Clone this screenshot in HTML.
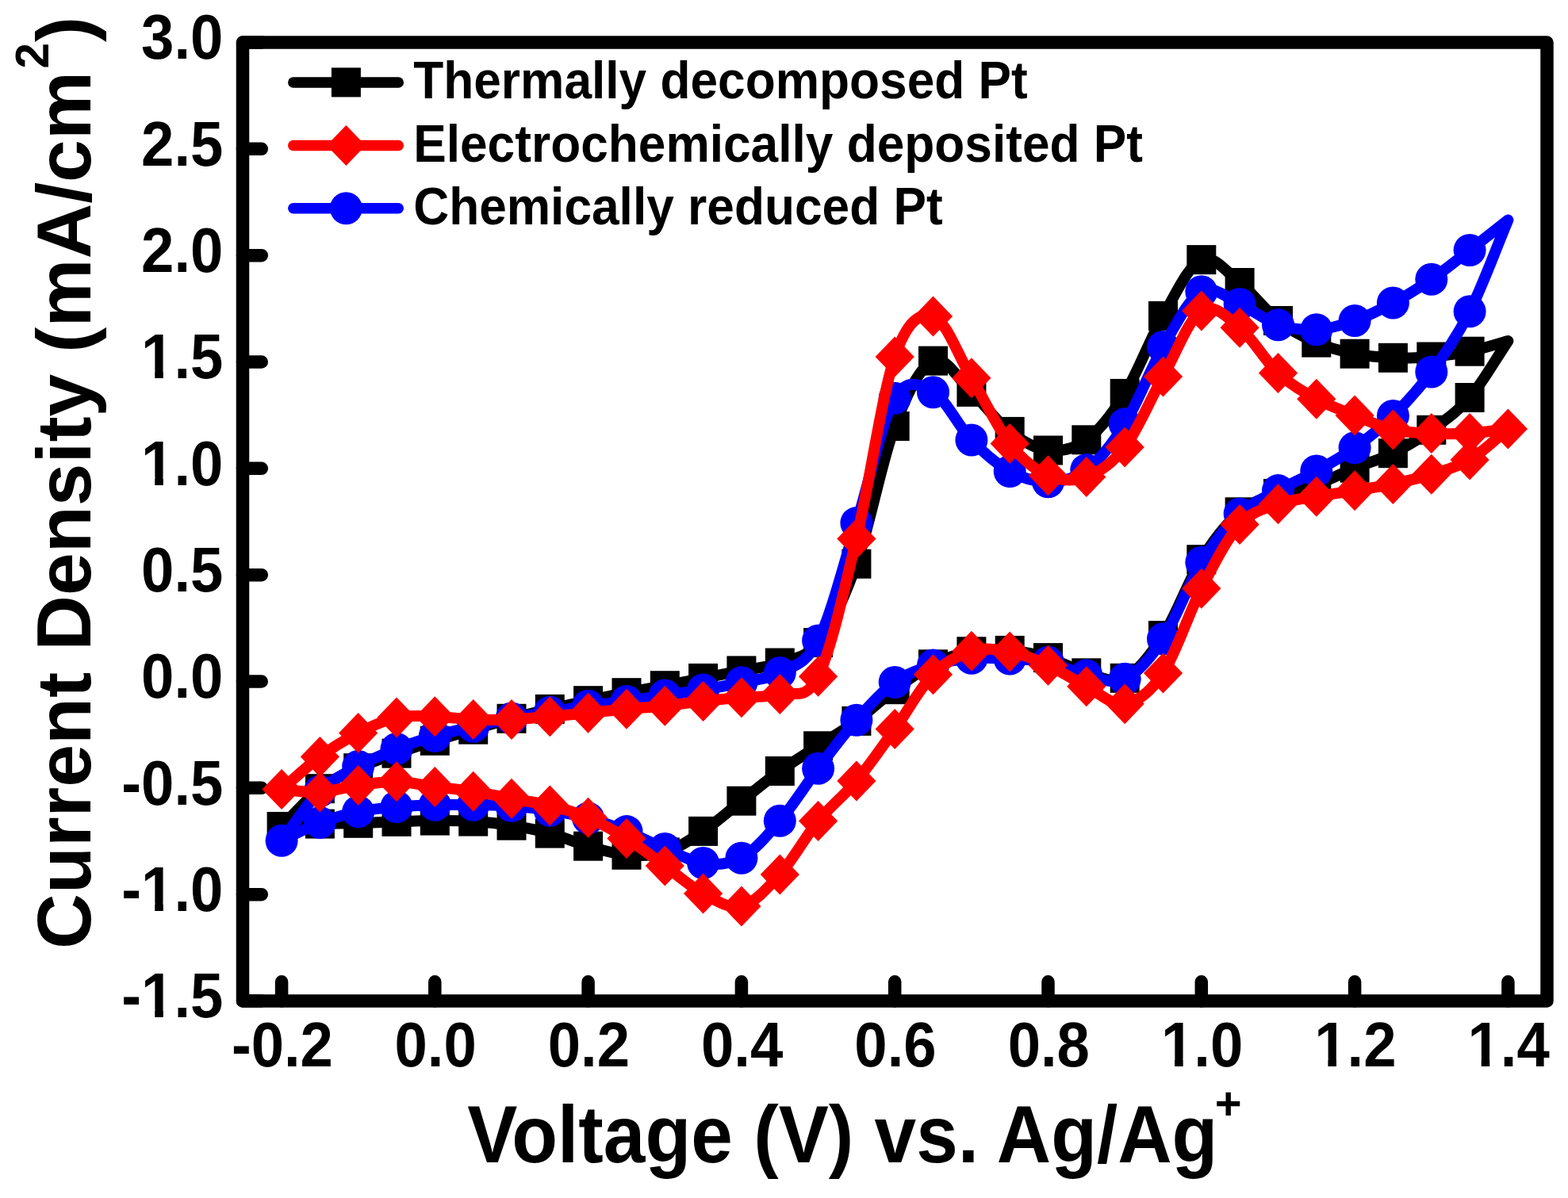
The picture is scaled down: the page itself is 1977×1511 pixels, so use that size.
<!DOCTYPE html>
<html><head><meta charset="utf-8"><title>Cyclic voltammetry of Pt counter electrodes</title>
<style>
html,body{margin:0;padding:0;background:#fff;}
body{width:1977px;height:1511px;overflow:hidden;}
svg{display:block;}
</style></head>
<body>
<svg width="1977" height="1511" viewBox="0 0 1977 1511"><rect width="1977" height="1511" fill="#fff"/><path d="M306.0,53.5H329.8M306.0,187.8H329.8M306.0,322.2H329.8M306.0,456.5H329.8M306.0,590.8H329.8M306.0,725.2H329.8M306.0,859.5H329.8M306.0,993.8H329.8M306.0,1128.2H329.8M306.0,1262.5H329.8M355.1,1262.5V1238.3M548.3,1262.5V1238.3M741.6,1262.5V1238.3M934.9,1262.5V1238.3M1128.2,1262.5V1238.3M1321.5,1262.5V1238.3M1514.8,1262.5V1238.3M1708.1,1262.5V1238.3M1901.4,1262.5V1238.3" stroke="#000" stroke-width="16.5" stroke-linecap="round" fill="none"/>
<path fill="none" stroke="#000" stroke-width="14.0" stroke-linejoin="round" stroke-linecap="round" d="M355.1,1042.5C371.2,1026.6 387.3,1007.0 403.4,994.7C419.5,982.4 435.6,976.1 451.7,968.7C467.8,961.3 483.9,955.9 500.0,950.2C516.1,944.5 532.2,939.3 548.3,934.3C564.5,929.3 580.6,924.9 596.7,920.2C612.8,915.5 628.9,910.6 645.0,906.3C661.1,902.0 677.2,898.2 693.3,894.4C709.4,890.6 725.5,887.2 741.6,883.7C757.7,880.2 773.9,876.9 790.0,873.7C806.1,870.5 822.2,867.8 838.3,864.7C854.4,861.7 870.5,858.5 886.6,855.4C902.7,852.3 918.8,849.1 934.9,845.9C951.0,842.7 967.1,841.9 983.3,836.0C999.4,830.1 1015.5,831.3 1031.6,810.5C1047.7,789.7 1063.8,756.7 1079.9,711.2C1096.0,665.7 1112.1,580.2 1128.2,537.5C1144.3,494.8 1160.4,462.3 1176.5,455.1C1192.7,447.9 1208.8,479.5 1224.9,494.4C1241.0,509.3 1257.1,532.1 1273.2,544.4C1289.3,556.7 1305.4,566.3 1321.5,568.0C1337.6,569.7 1353.7,566.7 1369.8,554.8C1386.0,542.9 1402.1,522.5 1418.2,496.4C1434.3,470.3 1450.4,426.5 1466.5,398.4C1482.6,370.3 1498.7,334.6 1514.8,327.6C1530.9,320.6 1547.0,343.7 1563.1,356.5C1579.2,369.3 1595.4,391.9 1611.5,404.5C1627.6,417.1 1643.7,425.2 1659.8,432.1C1675.9,439.1 1692.0,443.0 1708.1,446.2C1724.2,449.4 1740.3,450.7 1756.4,451.3C1772.5,451.9 1788.6,451.4 1804.8,450.0C1820.9,448.6 1837.0,446.5 1853.1,443.2C1869.2,439.9 1885.3,434.4 1901.4,430.0C1885.3,453.8 1869.2,482.8 1853.1,501.5C1837.0,520.2 1820.9,530.6 1804.8,542.3C1788.6,554.0 1772.5,563.7 1756.4,571.7C1740.3,579.7 1724.2,583.7 1708.1,590.2C1692.0,596.8 1675.9,605.6 1659.8,611.0C1643.7,616.4 1627.6,616.8 1611.5,622.6C1595.4,628.4 1579.2,631.9 1563.1,645.8C1547.0,659.6 1530.9,679.8 1514.8,705.7C1498.7,731.7 1482.6,776.6 1466.5,801.5C1450.4,826.4 1434.3,847.4 1418.2,855.3C1402.1,863.2 1386.0,853.1 1369.8,848.8C1353.7,844.5 1337.6,834.3 1321.5,829.6C1305.4,824.9 1289.3,821.7 1273.2,820.4C1257.1,819.1 1241.0,818.8 1224.9,821.7C1208.8,824.6 1192.7,829.8 1176.5,837.8C1160.4,845.8 1144.3,857.8 1128.2,869.7C1112.1,881.6 1096.0,897.5 1079.9,909.4C1063.8,921.2 1047.7,930.3 1031.6,940.8C1015.5,951.3 999.4,960.9 983.3,972.5C967.1,984.1 951.0,997.6 934.9,1010.2C918.8,1022.9 902.7,1037.6 886.6,1048.4C870.5,1059.2 854.4,1069.9 838.3,1074.9C822.2,1079.9 806.1,1079.6 790.0,1078.3C773.9,1077.0 757.7,1071.7 741.6,1067.2C725.5,1062.7 709.4,1055.4 693.3,1051.1C677.2,1046.8 661.1,1043.7 645.0,1041.2C628.9,1038.7 612.8,1037.1 596.7,1036.1C580.6,1035.1 564.5,1035.0 548.3,1035.1C532.2,1035.1 516.1,1035.9 500.0,1036.4C483.9,1036.9 467.8,1037.8 451.7,1038.3C435.6,1038.8 419.5,1038.4 403.4,1039.1C387.3,1039.8 371.2,1041.4 355.1,1042.5"/><g fill="#000"><rect x="336.6" y="1024.0" width="37.0" height="37.0"/><rect x="384.9" y="976.2" width="37.0" height="37.0"/><rect x="433.2" y="950.2" width="37.0" height="37.0"/><rect x="481.5" y="931.7" width="37.0" height="37.0"/><rect x="529.8" y="915.8" width="37.0" height="37.0"/><rect x="578.2" y="901.7" width="37.0" height="37.0"/><rect x="626.5" y="887.8" width="37.0" height="37.0"/><rect x="674.8" y="875.9" width="37.0" height="37.0"/><rect x="723.1" y="865.2" width="37.0" height="37.0"/><rect x="771.5" y="855.2" width="37.0" height="37.0"/><rect x="819.8" y="846.2" width="37.0" height="37.0"/><rect x="868.1" y="836.9" width="37.0" height="37.0"/><rect x="916.4" y="827.4" width="37.0" height="37.0"/><rect x="964.8" y="817.5" width="37.0" height="37.0"/><rect x="1013.1" y="792.0" width="37.0" height="37.0"/><rect x="1061.4" y="692.7" width="37.0" height="37.0"/><rect x="1109.7" y="519.0" width="37.0" height="37.0"/><rect x="1158.0" y="436.6" width="37.0" height="37.0"/><rect x="1206.4" y="475.9" width="37.0" height="37.0"/><rect x="1254.7" y="525.9" width="37.0" height="37.0"/><rect x="1303.0" y="549.5" width="37.0" height="37.0"/><rect x="1351.3" y="536.3" width="37.0" height="37.0"/><rect x="1399.7" y="477.9" width="37.0" height="37.0"/><rect x="1448.0" y="379.9" width="37.0" height="37.0"/><rect x="1496.3" y="309.1" width="37.0" height="37.0"/><rect x="1544.6" y="338.0" width="37.0" height="37.0"/><rect x="1593.0" y="386.0" width="37.0" height="37.0"/><rect x="1641.3" y="413.6" width="37.0" height="37.0"/><rect x="1689.6" y="427.7" width="37.0" height="37.0"/><rect x="1737.9" y="432.8" width="37.0" height="37.0"/><rect x="1786.3" y="431.5" width="37.0" height="37.0"/><rect x="1834.6" y="424.7" width="37.0" height="37.0"/><rect x="1834.6" y="483.0" width="37.0" height="37.0"/><rect x="1786.3" y="523.8" width="37.0" height="37.0"/><rect x="1737.9" y="553.2" width="37.0" height="37.0"/><rect x="1689.6" y="571.7" width="37.0" height="37.0"/><rect x="1641.3" y="592.5" width="37.0" height="37.0"/><rect x="1593.0" y="604.1" width="37.0" height="37.0"/><rect x="1544.6" y="627.3" width="37.0" height="37.0"/><rect x="1496.3" y="687.2" width="37.0" height="37.0"/><rect x="1448.0" y="783.0" width="37.0" height="37.0"/><rect x="1399.7" y="836.8" width="37.0" height="37.0"/><rect x="1351.3" y="830.3" width="37.0" height="37.0"/><rect x="1303.0" y="811.1" width="37.0" height="37.0"/><rect x="1254.7" y="801.9" width="37.0" height="37.0"/><rect x="1206.4" y="803.2" width="37.0" height="37.0"/><rect x="1158.0" y="819.3" width="37.0" height="37.0"/><rect x="1109.7" y="851.2" width="37.0" height="37.0"/><rect x="1061.4" y="890.9" width="37.0" height="37.0"/><rect x="1013.1" y="922.3" width="37.0" height="37.0"/><rect x="964.8" y="954.0" width="37.0" height="37.0"/><rect x="916.4" y="991.7" width="37.0" height="37.0"/><rect x="868.1" y="1029.9" width="37.0" height="37.0"/><rect x="819.8" y="1056.4" width="37.0" height="37.0"/><rect x="771.5" y="1059.8" width="37.0" height="37.0"/><rect x="723.1" y="1048.7" width="37.0" height="37.0"/><rect x="674.8" y="1032.6" width="37.0" height="37.0"/><rect x="626.5" y="1022.7" width="37.0" height="37.0"/><rect x="578.2" y="1017.6" width="37.0" height="37.0"/><rect x="529.8" y="1016.6" width="37.0" height="37.0"/><rect x="481.5" y="1017.9" width="37.0" height="37.0"/><rect x="433.2" y="1019.8" width="37.0" height="37.0"/><rect x="384.9" y="1020.6" width="37.0" height="37.0"/></g>
<path fill="none" stroke="#0000ff" stroke-width="14.0" stroke-linejoin="round" stroke-linecap="round" d="M355.1,1060.3C371.2,1039.5 387.3,1013.4 403.4,997.8C419.5,982.2 435.6,975.4 451.7,966.5C467.8,957.6 483.9,950.9 500.0,944.5C516.1,938.1 532.2,933.1 548.3,928.4C564.5,923.7 580.6,920.0 596.7,916.3C612.8,912.6 628.9,909.0 645.0,906.0C661.1,903.0 677.2,900.8 693.3,898.2C709.4,895.6 725.5,892.5 741.6,890.2C757.7,887.9 773.9,886.6 790.0,884.4C806.1,882.2 822.2,879.4 838.3,877.0C854.4,874.6 870.5,872.7 886.6,870.0C902.7,867.3 918.8,864.4 934.9,860.8C951.0,857.2 967.1,857.3 983.3,848.5C999.4,839.7 1015.5,839.4 1031.6,807.9C1047.7,776.4 1063.8,710.6 1079.9,659.6C1096.0,608.6 1112.1,529.7 1128.2,502.2C1144.3,474.7 1160.4,485.9 1176.5,494.7C1192.7,503.5 1208.8,538.4 1224.9,555.0C1241.0,571.6 1257.1,585.7 1273.2,594.5C1289.3,603.3 1305.4,608.0 1321.5,607.7C1337.6,607.4 1353.7,604.8 1369.8,592.6C1386.0,580.4 1402.1,560.6 1418.2,534.7C1434.3,508.8 1450.4,465.2 1466.5,437.4C1482.6,409.6 1498.7,376.8 1514.8,367.8C1530.9,358.8 1547.0,376.5 1563.1,383.5C1579.2,390.5 1595.4,404.3 1611.5,409.7C1627.6,415.1 1643.7,416.7 1659.8,415.8C1675.9,414.9 1692.0,410.1 1708.1,404.5C1724.2,398.9 1740.3,390.7 1756.4,382.0C1772.5,373.3 1788.6,363.4 1804.8,352.3C1820.9,341.2 1837.0,328.0 1853.1,315.5C1869.2,303.0 1885.3,290.2 1901.4,277.5C1885.3,315.9 1869.2,360.9 1853.1,392.8C1837.0,424.7 1820.9,447.2 1804.8,469.1C1788.6,491.0 1772.5,508.5 1756.4,524.4C1740.3,540.3 1724.2,553.1 1708.1,564.7C1692.0,576.3 1675.9,585.0 1659.8,594.0C1643.7,603.0 1627.6,609.6 1611.5,618.6C1595.4,627.6 1579.2,632.8 1563.1,647.9C1547.0,663.0 1530.9,683.0 1514.8,709.3C1498.7,735.6 1482.6,781.3 1466.5,805.8C1450.4,830.3 1434.3,848.6 1418.2,856.3C1402.1,863.9 1386.0,855.2 1369.8,851.7C1353.7,848.2 1337.6,838.7 1321.5,835.3C1305.4,831.9 1289.3,832.0 1273.2,831.1C1257.1,830.2 1241.0,828.9 1224.9,830.2C1208.8,831.5 1192.7,834.0 1176.5,839.0C1160.4,844.0 1144.3,849.0 1128.2,860.5C1112.1,872.0 1096.0,890.1 1079.9,908.2C1063.8,926.3 1047.7,948.1 1031.6,969.3C1015.5,990.5 999.4,1016.5 983.3,1035.3C967.1,1054.1 951.0,1073.3 934.9,1082.2C918.8,1091.1 902.7,1090.5 886.6,1088.5C870.5,1086.5 854.4,1077.1 838.3,1070.4C822.2,1063.8 806.1,1055.0 790.0,1048.6C773.9,1042.2 757.7,1036.3 741.6,1031.9C725.5,1027.5 709.4,1024.8 693.3,1022.2C677.2,1019.6 661.1,1017.6 645.0,1016.4C628.9,1015.2 612.8,1015.4 596.7,1015.2C580.6,1015.0 564.5,1014.8 548.3,1015.2C532.2,1015.6 516.1,1016.2 500.0,1017.6C483.9,1019.0 467.8,1020.5 451.7,1023.8C435.6,1027.1 419.5,1031.4 403.4,1037.5C387.3,1043.6 371.2,1052.7 355.1,1060.3"/><g fill="#0000ff"><circle cx="355.1" cy="1060.3" r="20.5"/><circle cx="403.4" cy="997.8" r="20.5"/><circle cx="451.7" cy="966.5" r="20.5"/><circle cx="500.0" cy="944.5" r="20.5"/><circle cx="548.3" cy="928.4" r="20.5"/><circle cx="596.7" cy="916.3" r="20.5"/><circle cx="645.0" cy="906.0" r="20.5"/><circle cx="693.3" cy="898.2" r="20.5"/><circle cx="741.6" cy="890.2" r="20.5"/><circle cx="790.0" cy="884.4" r="20.5"/><circle cx="838.3" cy="877.0" r="20.5"/><circle cx="886.6" cy="870.0" r="20.5"/><circle cx="934.9" cy="860.8" r="20.5"/><circle cx="983.3" cy="848.5" r="20.5"/><circle cx="1031.6" cy="807.9" r="20.5"/><circle cx="1079.9" cy="659.6" r="20.5"/><circle cx="1128.2" cy="502.2" r="20.5"/><circle cx="1176.5" cy="494.7" r="20.5"/><circle cx="1224.9" cy="555.0" r="20.5"/><circle cx="1273.2" cy="594.5" r="20.5"/><circle cx="1321.5" cy="607.7" r="20.5"/><circle cx="1369.8" cy="592.6" r="20.5"/><circle cx="1418.2" cy="534.7" r="20.5"/><circle cx="1466.5" cy="437.4" r="20.5"/><circle cx="1514.8" cy="367.8" r="20.5"/><circle cx="1563.1" cy="383.5" r="20.5"/><circle cx="1611.5" cy="409.7" r="20.5"/><circle cx="1659.8" cy="415.8" r="20.5"/><circle cx="1708.1" cy="404.5" r="20.5"/><circle cx="1756.4" cy="382.0" r="20.5"/><circle cx="1804.8" cy="352.3" r="20.5"/><circle cx="1853.1" cy="315.5" r="20.5"/><circle cx="1853.1" cy="392.8" r="20.5"/><circle cx="1804.8" cy="469.1" r="20.5"/><circle cx="1756.4" cy="524.4" r="20.5"/><circle cx="1708.1" cy="564.7" r="20.5"/><circle cx="1659.8" cy="594.0" r="20.5"/><circle cx="1611.5" cy="618.6" r="20.5"/><circle cx="1563.1" cy="647.9" r="20.5"/><circle cx="1514.8" cy="709.3" r="20.5"/><circle cx="1466.5" cy="805.8" r="20.5"/><circle cx="1418.2" cy="856.3" r="20.5"/><circle cx="1369.8" cy="851.7" r="20.5"/><circle cx="1321.5" cy="835.3" r="20.5"/><circle cx="1273.2" cy="831.1" r="20.5"/><circle cx="1224.9" cy="830.2" r="20.5"/><circle cx="1176.5" cy="839.0" r="20.5"/><circle cx="1128.2" cy="860.5" r="20.5"/><circle cx="1079.9" cy="908.2" r="20.5"/><circle cx="1031.6" cy="969.3" r="20.5"/><circle cx="983.3" cy="1035.3" r="20.5"/><circle cx="934.9" cy="1082.2" r="20.5"/><circle cx="886.6" cy="1088.5" r="20.5"/><circle cx="838.3" cy="1070.4" r="20.5"/><circle cx="790.0" cy="1048.6" r="20.5"/><circle cx="741.6" cy="1031.9" r="20.5"/><circle cx="693.3" cy="1022.2" r="20.5"/><circle cx="645.0" cy="1016.4" r="20.5"/><circle cx="596.7" cy="1015.2" r="20.5"/><circle cx="548.3" cy="1015.2" r="20.5"/><circle cx="500.0" cy="1017.6" r="20.5"/><circle cx="451.7" cy="1023.8" r="20.5"/><circle cx="403.4" cy="1037.5" r="20.5"/></g>
<path fill="none" stroke="#ff0000" stroke-width="14.0" stroke-linejoin="round" stroke-linecap="round" d="M355.1,995.6C371.2,981.9 387.3,966.4 403.4,954.5C419.5,942.6 435.6,932.8 451.7,924.5C467.8,916.2 483.9,908.5 500.0,905.0C516.1,901.5 532.2,903.3 548.3,903.7C564.5,904.1 580.6,906.9 596.7,907.5C612.8,908.1 628.9,908.1 645.0,907.5C661.1,906.9 677.2,905.1 693.3,903.7C709.4,902.3 725.5,900.8 741.6,899.2C757.7,897.6 773.9,895.8 790.0,894.3C806.1,892.8 822.2,891.9 838.3,890.2C854.4,888.6 870.5,886.1 886.6,884.4C902.7,882.6 918.8,881.2 934.9,879.7C951.0,878.2 967.1,879.9 983.3,875.5C999.4,871.1 1015.5,885.9 1031.6,853.2C1047.7,820.5 1063.8,746.6 1079.9,679.4C1096.0,612.2 1112.1,496.8 1128.2,450.0C1144.3,403.2 1160.4,394.4 1176.5,398.9C1192.7,403.4 1208.8,450.0 1224.9,476.8C1241.0,503.6 1257.1,539.0 1273.2,559.5C1289.3,580.0 1305.4,592.7 1321.5,599.7C1337.6,606.7 1353.7,607.5 1369.8,601.6C1386.0,595.7 1402.1,585.2 1418.2,564.1C1434.3,543.0 1450.4,503.6 1466.5,474.9C1482.6,446.2 1498.7,402.4 1514.8,392.1C1530.9,381.8 1547.0,400.1 1563.1,413.2C1579.2,426.3 1595.4,455.6 1611.5,470.6C1627.6,485.6 1643.7,494.3 1659.8,503.2C1675.9,512.1 1692.0,517.4 1708.1,523.9C1724.2,530.4 1740.3,538.2 1756.4,542.0C1772.5,545.8 1788.6,545.8 1804.8,546.6C1820.9,547.4 1837.0,547.5 1853.1,546.6C1869.2,545.7 1885.3,542.9 1901.4,541.0C1885.3,554.0 1869.2,570.5 1853.1,580.0C1837.0,589.5 1820.9,593.2 1804.8,598.3C1788.6,603.4 1772.5,607.0 1756.4,610.4C1740.3,613.8 1724.2,616.2 1708.1,618.8C1692.0,621.4 1675.9,623.4 1659.8,626.2C1643.7,629.0 1627.6,629.9 1611.5,635.8C1595.4,641.7 1579.2,643.9 1563.1,661.6C1547.0,679.4 1530.9,711.1 1514.8,742.3C1498.7,773.5 1482.6,824.8 1466.5,849.0C1450.4,873.2 1434.3,885.0 1418.2,887.8C1402.1,890.6 1386.0,873.8 1369.8,865.7C1353.7,857.6 1337.6,846.5 1321.5,839.2C1305.4,831.9 1289.3,824.9 1273.2,821.9C1257.1,818.9 1241.0,816.5 1224.9,821.3C1208.8,826.1 1192.7,834.3 1176.5,850.7C1160.4,867.1 1144.3,897.2 1128.2,919.6C1112.1,942.0 1096.0,965.6 1079.9,984.9C1063.8,1004.2 1047.7,1015.8 1031.6,1035.5C1015.5,1055.2 999.4,1085.1 983.3,1103.0C967.1,1120.9 951.0,1139.0 934.9,1143.0C918.8,1147.0 902.7,1135.4 886.6,1126.9C870.5,1118.4 854.4,1103.6 838.3,1092.0C822.2,1080.4 806.1,1067.6 790.0,1057.5C773.9,1047.4 757.7,1038.1 741.6,1031.2C725.5,1024.3 709.4,1020.0 693.3,1016.0C677.2,1012.0 661.1,1010.3 645.0,1007.3C628.9,1004.3 612.8,1000.7 596.7,998.2C580.6,995.7 564.5,994.5 548.3,992.4C532.2,990.3 516.1,986.0 500.0,985.7C483.9,985.4 467.8,988.3 451.7,990.5C435.6,992.7 419.5,998.2 403.4,999.1C387.3,1000.0 371.2,996.8 355.1,995.6"/><g fill="#ff0000"><polygon points="355.1,970.1 379.7,995.6 355.1,1021.1 330.4,995.6"/><polygon points="403.4,929.0 428.0,954.5 403.4,980.0 378.8,954.5"/><polygon points="451.7,899.0 476.3,924.5 451.7,950.0 427.1,924.5"/><polygon points="500.0,879.5 524.6,905.0 500.0,930.5 475.4,905.0"/><polygon points="548.3,878.2 572.9,903.7 548.3,929.2 523.7,903.7"/><polygon points="596.7,882.0 621.3,907.5 596.7,933.0 572.1,907.5"/><polygon points="645.0,882.0 669.6,907.5 645.0,933.0 620.4,907.5"/><polygon points="693.3,878.2 717.9,903.7 693.3,929.2 668.7,903.7"/><polygon points="741.6,873.7 766.2,899.2 741.6,924.7 717.0,899.2"/><polygon points="790.0,868.8 814.6,894.3 790.0,919.8 765.4,894.3"/><polygon points="838.3,864.7 862.9,890.2 838.3,915.7 813.7,890.2"/><polygon points="886.6,858.9 911.2,884.4 886.6,909.9 862.0,884.4"/><polygon points="934.9,854.2 959.5,879.7 934.9,905.2 910.3,879.7"/><polygon points="983.3,850.0 1007.9,875.5 983.3,901.0 958.7,875.5"/><polygon points="1031.6,827.7 1056.2,853.2 1031.6,878.7 1007.0,853.2"/><polygon points="1079.9,653.9 1104.5,679.4 1079.9,704.9 1055.3,679.4"/><polygon points="1128.2,424.5 1152.8,450.0 1128.2,475.5 1103.6,450.0"/><polygon points="1176.5,373.4 1201.1,398.9 1176.5,424.4 1151.9,398.9"/><polygon points="1224.9,451.3 1249.5,476.8 1224.9,502.3 1200.3,476.8"/><polygon points="1273.2,534.0 1297.8,559.5 1273.2,585.0 1248.6,559.5"/><polygon points="1321.5,574.2 1346.1,599.7 1321.5,625.2 1296.9,599.7"/><polygon points="1369.8,576.1 1394.4,601.6 1369.8,627.1 1345.2,601.6"/><polygon points="1418.2,538.6 1442.8,564.1 1418.2,589.6 1393.6,564.1"/><polygon points="1466.5,449.4 1491.1,474.9 1466.5,500.4 1441.9,474.9"/><polygon points="1514.8,366.6 1539.4,392.1 1514.8,417.6 1490.2,392.1"/><polygon points="1563.1,387.7 1587.7,413.2 1563.1,438.7 1538.5,413.2"/><polygon points="1611.5,445.1 1636.1,470.6 1611.5,496.1 1586.9,470.6"/><polygon points="1659.8,477.7 1684.4,503.2 1659.8,528.7 1635.2,503.2"/><polygon points="1708.1,498.4 1732.7,523.9 1708.1,549.4 1683.5,523.9"/><polygon points="1756.4,516.5 1781.0,542.0 1756.4,567.5 1731.8,542.0"/><polygon points="1804.8,521.1 1829.4,546.6 1804.8,572.1 1780.2,546.6"/><polygon points="1853.1,521.1 1877.7,546.6 1853.1,572.1 1828.5,546.6"/><polygon points="1901.4,515.5 1926.0,541.0 1901.4,566.5 1876.8,541.0"/><polygon points="1853.1,554.5 1877.7,580.0 1853.1,605.5 1828.5,580.0"/><polygon points="1804.8,572.8 1829.4,598.3 1804.8,623.8 1780.2,598.3"/><polygon points="1756.4,584.9 1781.0,610.4 1756.4,635.9 1731.8,610.4"/><polygon points="1708.1,593.3 1732.7,618.8 1708.1,644.3 1683.5,618.8"/><polygon points="1659.8,600.7 1684.4,626.2 1659.8,651.7 1635.2,626.2"/><polygon points="1611.5,610.3 1636.1,635.8 1611.5,661.3 1586.9,635.8"/><polygon points="1563.1,636.1 1587.7,661.6 1563.1,687.1 1538.5,661.6"/><polygon points="1514.8,716.8 1539.4,742.3 1514.8,767.8 1490.2,742.3"/><polygon points="1466.5,823.5 1491.1,849.0 1466.5,874.5 1441.9,849.0"/><polygon points="1418.2,862.3 1442.8,887.8 1418.2,913.3 1393.6,887.8"/><polygon points="1369.8,840.2 1394.4,865.7 1369.8,891.2 1345.2,865.7"/><polygon points="1321.5,813.7 1346.1,839.2 1321.5,864.7 1296.9,839.2"/><polygon points="1273.2,796.4 1297.8,821.9 1273.2,847.4 1248.6,821.9"/><polygon points="1224.9,795.8 1249.5,821.3 1224.9,846.8 1200.3,821.3"/><polygon points="1176.5,825.2 1201.1,850.7 1176.5,876.2 1151.9,850.7"/><polygon points="1128.2,894.1 1152.8,919.6 1128.2,945.1 1103.6,919.6"/><polygon points="1079.9,959.4 1104.5,984.9 1079.9,1010.4 1055.3,984.9"/><polygon points="1031.6,1010.0 1056.2,1035.5 1031.6,1061.0 1007.0,1035.5"/><polygon points="983.3,1077.5 1007.9,1103.0 983.3,1128.5 958.7,1103.0"/><polygon points="934.9,1117.5 959.5,1143.0 934.9,1168.5 910.3,1143.0"/><polygon points="886.6,1101.4 911.2,1126.9 886.6,1152.4 862.0,1126.9"/><polygon points="838.3,1066.5 862.9,1092.0 838.3,1117.5 813.7,1092.0"/><polygon points="790.0,1032.0 814.6,1057.5 790.0,1083.0 765.4,1057.5"/><polygon points="741.6,1005.7 766.2,1031.2 741.6,1056.7 717.0,1031.2"/><polygon points="693.3,990.5 717.9,1016.0 693.3,1041.5 668.7,1016.0"/><polygon points="645.0,981.8 669.6,1007.3 645.0,1032.8 620.4,1007.3"/><polygon points="596.7,972.7 621.3,998.2 596.7,1023.7 572.1,998.2"/><polygon points="548.3,966.9 572.9,992.4 548.3,1017.9 523.7,992.4"/><polygon points="500.0,960.2 524.6,985.7 500.0,1011.2 475.4,985.7"/><polygon points="451.7,965.0 476.3,990.5 451.7,1016.0 427.1,990.5"/><polygon points="403.4,973.6 428.0,999.1 403.4,1024.6 378.8,999.1"/></g>
<rect x="306" y="53.5" width="1644.5" height="1209.0" fill="none" stroke="#000" stroke-width="16.5" stroke-linejoin="round"/>
<defs><clipPath id="c1e" clipPathUnits="userSpaceOnUse"><path clip-rule="evenodd" d="M-2000,-2000H2000V2000H-2000ZM-108.12,-9.70H-92.14V0.95H-108.12ZM-80.85,-9.70H-65.19V0.95H-80.85Z"/></clipPath><clipPath id="c1m" clipPathUnits="userSpaceOnUse"><path clip-rule="evenodd" d="M-2000,-2000H2000V2000H-2000ZM-52.87,-9.70H-36.89V0.95H-52.87ZM-25.60,-9.70H-9.94V0.95H-25.60Z"/></clipPath></defs>
<text transform="translate(281.4,74.2) scale(0.935,1)" font-size="79.5" text-anchor="end" font-family="'Liberation Sans', Arial, Helvetica, sans-serif" font-weight="bold">3.0</text>
<text transform="translate(281.4,208.5) scale(0.935,1)" font-size="79.5" text-anchor="end" font-family="'Liberation Sans', Arial, Helvetica, sans-serif" font-weight="bold">2.5</text>
<text transform="translate(281.4,342.9) scale(0.935,1)" font-size="79.5" text-anchor="end" font-family="'Liberation Sans', Arial, Helvetica, sans-serif" font-weight="bold">2.0</text>
<text transform="translate(281.4,477.2) scale(0.935,1)" clip-path="url(#c1e)" font-size="79.5" text-anchor="end" font-family="'Liberation Sans', Arial, Helvetica, sans-serif" font-weight="bold">1.5</text>
<text transform="translate(281.4,611.5) scale(0.935,1)" clip-path="url(#c1e)" font-size="79.5" text-anchor="end" font-family="'Liberation Sans', Arial, Helvetica, sans-serif" font-weight="bold">1.0</text>
<text transform="translate(281.4,745.9) scale(0.935,1)" font-size="79.5" text-anchor="end" font-family="'Liberation Sans', Arial, Helvetica, sans-serif" font-weight="bold">0.5</text>
<text transform="translate(281.4,880.2) scale(0.935,1)" font-size="79.5" text-anchor="end" font-family="'Liberation Sans', Arial, Helvetica, sans-serif" font-weight="bold">0.0</text>
<text transform="translate(281.4,1014.5) scale(0.935,1)" font-size="79.5" text-anchor="end" font-family="'Liberation Sans', Arial, Helvetica, sans-serif" font-weight="bold">-0.5</text>
<text transform="translate(281.4,1148.9) scale(0.935,1)" clip-path="url(#c1e)" font-size="79.5" text-anchor="end" font-family="'Liberation Sans', Arial, Helvetica, sans-serif" font-weight="bold">-1.0</text>
<text transform="translate(281.4,1283.2) scale(0.935,1)" clip-path="url(#c1e)" font-size="79.5" text-anchor="end" font-family="'Liberation Sans', Arial, Helvetica, sans-serif" font-weight="bold">-1.5</text>
<text transform="translate(355.9,1345) scale(0.935,1)" font-size="79.5" text-anchor="middle" font-family="'Liberation Sans', Arial, Helvetica, sans-serif" font-weight="bold">-0.2</text>
<text transform="translate(549.1,1345) scale(0.935,1)" font-size="79.5" text-anchor="middle" font-family="'Liberation Sans', Arial, Helvetica, sans-serif" font-weight="bold">0.0</text>
<text transform="translate(742.4,1345) scale(0.935,1)" font-size="79.5" text-anchor="middle" font-family="'Liberation Sans', Arial, Helvetica, sans-serif" font-weight="bold">0.2</text>
<text transform="translate(935.7,1345) scale(0.935,1)" font-size="79.5" text-anchor="middle" font-family="'Liberation Sans', Arial, Helvetica, sans-serif" font-weight="bold">0.4</text>
<text transform="translate(1129.0,1345) scale(0.935,1)" font-size="79.5" text-anchor="middle" font-family="'Liberation Sans', Arial, Helvetica, sans-serif" font-weight="bold">0.6</text>
<text transform="translate(1322.3,1345) scale(0.935,1)" font-size="79.5" text-anchor="middle" font-family="'Liberation Sans', Arial, Helvetica, sans-serif" font-weight="bold">0.8</text>
<text transform="translate(1515.6,1345) scale(0.935,1)" clip-path="url(#c1m)" font-size="79.5" text-anchor="middle" font-family="'Liberation Sans', Arial, Helvetica, sans-serif" font-weight="bold">1.0</text>
<text transform="translate(1708.9,1345) scale(0.935,1)" clip-path="url(#c1m)" font-size="79.5" text-anchor="middle" font-family="'Liberation Sans', Arial, Helvetica, sans-serif" font-weight="bold">1.2</text>
<text transform="translate(1902.2,1345) scale(0.935,1)" clip-path="url(#c1m)" font-size="79.5" text-anchor="middle" font-family="'Liberation Sans', Arial, Helvetica, sans-serif" font-weight="bold">1.4</text>
<line x1="369.8" y1="103.9" x2="502.3" y2="103.9" stroke="#000" stroke-width="13.5" stroke-linecap="round"/>
<g fill="#000"><rect x="417.9" y="85.4" width="37.0" height="37.0"/></g>
<text transform="translate(521.2,124.1) scale(0.933,1)" font-size="66.7" font-family="'Liberation Sans', Arial, Helvetica, sans-serif" font-weight="bold">Thermally decomposed Pt</text>
<line x1="369.8" y1="183.5" x2="502.3" y2="183.5" stroke="#ff0000" stroke-width="13.5" stroke-linecap="round"/>
<g fill="#ff0000"><polygon points="436.4,158.0 461.0,183.5 436.4,209.0 411.8,183.5"/></g>
<text transform="translate(521.2,203.5) scale(0.933,1)" font-size="66.7" font-family="'Liberation Sans', Arial, Helvetica, sans-serif" font-weight="bold">Electrochemically deposited Pt</text>
<line x1="369.8" y1="262.7" x2="502.3" y2="262.7" stroke="#0000ff" stroke-width="13.5" stroke-linecap="round"/>
<g fill="#0000ff"><circle cx="436.4" cy="262.7" r="20.5"/></g>
<text transform="translate(521.2,282.9) scale(0.933,1)" font-size="66.7" font-family="'Liberation Sans', Arial, Helvetica, sans-serif" font-weight="bold">Chemically reduced Pt</text>
<text transform="translate(589.2,1466) scale(0.935,1)" font-size="101.2" font-family="'Liberation Sans', Arial, Helvetica, sans-serif" font-weight="bold">Voltage (V) vs. Ag/Ag</text>
<text transform="translate(1531.7,1412.2)" font-size="58" font-family="'Liberation Sans', Arial, Helvetica, sans-serif" font-weight="bold">+</text>
<text transform="translate(114.3,1196.9) rotate(-90)" font-size="96.7" font-family="'Liberation Sans', Arial, Helvetica, sans-serif" font-weight="bold">Current Density (mA/cm</text>
<text transform="translate(61,86.5) rotate(-90)" font-size="58.6" font-family="'Liberation Sans', Arial, Helvetica, sans-serif" font-weight="bold">2</text>
<text transform="translate(114.3,53) rotate(-90)" font-size="96.7" font-family="'Liberation Sans', Arial, Helvetica, sans-serif" font-weight="bold">)</text></svg>
</body></html>
